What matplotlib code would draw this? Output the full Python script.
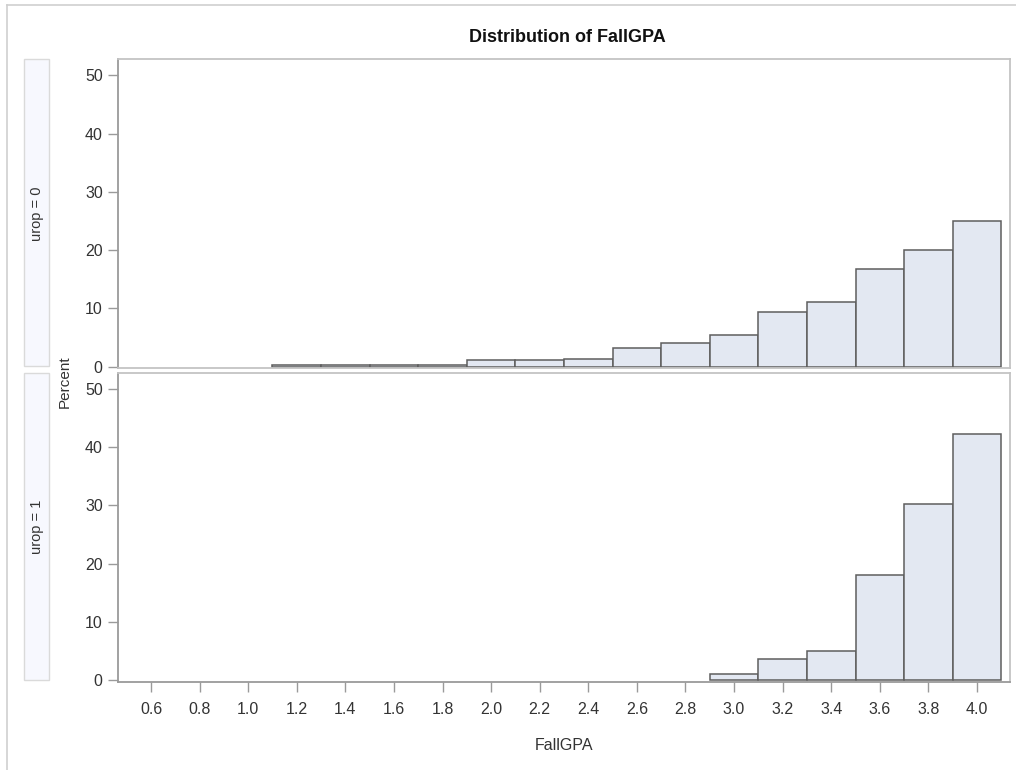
import matplotlib
matplotlib.use("Agg")
import matplotlib.pyplot as plt
from matplotlib.patches import Rectangle
from matplotlib.lines import Line2D

# percent of students per FallGPA bin (bin width 0.2, labelled by midpoint)
mid_urop0 = [1.2, 1.4, 1.6, 1.8, 2.0, 2.2, 2.4, 2.6, 2.8, 3.0, 3.2, 3.4, 3.6, 3.8, 4.0]
pct_urop0 = [0.3, 0.3, 0.3, 0.3, 1.1, 1.1, 1.3, 3.2, 4.1, 5.5, 9.3, 11.0, 16.7, 20.0, 25.0]
mid_urop1 = [3.0, 3.2, 3.4, 3.6, 3.8, 4.0]
pct_urop1 = [1.1, 3.6, 5.0, 18.1, 30.2, 42.3]
panel_labels = ["urop = 0", "urop = 1"]
x_ticks = [0.6, 0.8, 1.0, 1.2, 1.4, 1.6, 1.8, 2.0, 2.2, 2.4, 2.6, 2.8, 3.0, 3.2, 3.4, 3.6, 3.8, 4.0]
y_ticks = [0, 10, 20, 30, 40, 50]

plt.rcParams["font.family"] = ["Liberation Sans", "DejaVu Sans"]

W, H = 1016, 770
fig = plt.figure(figsize=(W / 100, H / 100), dpi=100)


def fx(px):
    return px / W


def fy(py):
    return 1 - py / H


bar_fill = "#e3e8f2"
bar_edge = "#5e5e5e"
frame = "#c4c4c4"
axis_col = "#9a9a9a"
text_col = "#333333"

panels = [(59.3, 368.0), (372.7, 681.7)]
data = [(mid_urop0, pct_urop0), (mid_urop1, pct_urop1)]

axes = []
for i, ((top, bot), (mids, pcts)) in enumerate(zip(panels, data)):
    ax = fig.add_axes([fx(118), fy(bot), fx(1010) - fx(118), (bot - top) / H])
    ax.bar(mids, pcts, width=0.2, color=bar_fill, edgecolor=bar_edge, linewidth=1.1)
    ax.set_xlim(0.464, 4.136)
    ax.set_ylim(-0.25, 52.75)
    ax.set_yticks(y_ticks)
    ax.set_xticks(x_ticks)
    ax.tick_params(axis="y", length=7, width=1, color=axis_col, pad=4,
                   labelsize=11.5, labelcolor=text_col)
    ax.tick_params(axis="x", length=7, width=1, color=axis_col, pad=7.5,
                   labelsize=11.5, labelcolor=text_col)
    for side in ["top", "right"]:
        ax.spines[side].set_color(frame)
        ax.spines[side].set_linewidth(1.3)
    for side in ["left", "bottom"]:
        ax.spines[side].set_color(axis_col)
        ax.spines[side].set_linewidth(1.3)
    if i == 0:
        ax.tick_params(axis="x", bottom=False, labelbottom=False)
        ax.spines["bottom"].set_color(frame)
    # strip label box on the left
    strip = Rectangle((fx(24), fy(bot - 2)), fx(49) - fx(24), (bot - 2 - top) / H,
                      transform=fig.transFigure, facecolor="#f7f8fe",
                      edgecolor="#dadada", linewidth=1)
    fig.patches.append(strip)
    fig.text(fx(36.5), fy((top + bot) / 2), panel_labels[i], rotation=90,
             ha="center", va="center", fontsize=10.5, color=text_col)
    axes.append(ax)

# outer frame lines
fig.add_artist(Line2D([fx(7), fx(7)], [fy(5), 0], transform=fig.transFigure,
                      color="#cfcfcf", linewidth=1.2))
fig.add_artist(Line2D([fx(7), 1], [fy(5), fy(5)], transform=fig.transFigure,
                      color="#cfcfcf", linewidth=1.2))

fig.text(fx(567), fy(37), "Distribution of FallGPA", ha="center", va="center",
         fontsize=13, fontweight="bold", color="#111111")
fig.text(fx(65), fy(382), "Percent", rotation=90, ha="center", va="center",
         fontsize=11, color=text_col)
fig.text(fx(564), fy(745), "FallGPA", ha="center", va="center",
         fontsize=11.5, color=text_col)

fig.savefig("out.png", dpi=100, facecolor="white")
